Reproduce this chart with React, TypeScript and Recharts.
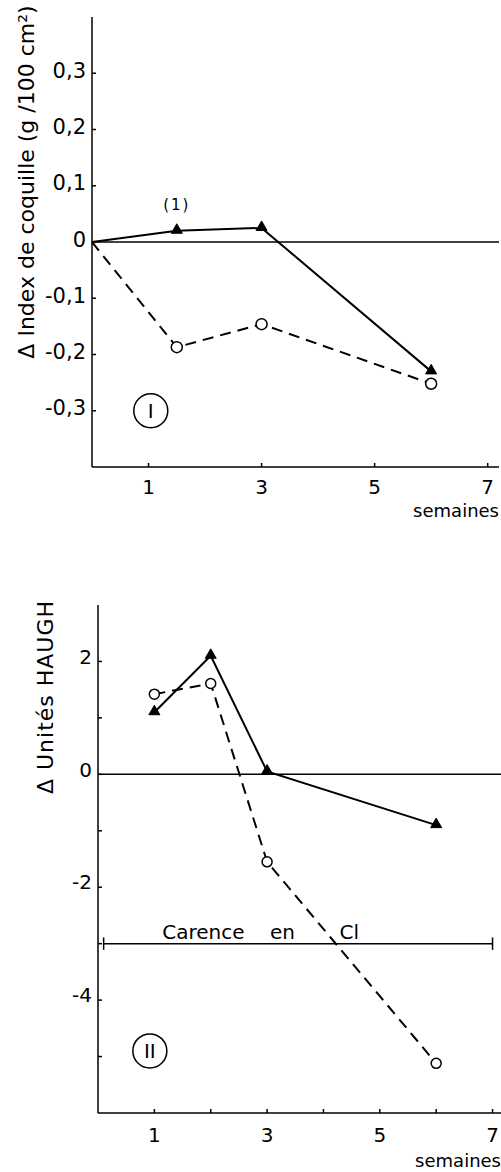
import React from 'react';
import { LineChart, Line, XAxis, YAxis, ReferenceLine, ReferenceDot } from 'recharts';

// ---- Chart I : shell index ----
const weeks1 = [0, 1.5, 3, 6];
const shellTriangle = [0, 0.02, 0.025, -0.23];
const shellCircle = [0, -0.187, -0.146, -0.252];
const xTicks1 = [1, 3, 5, 7];
const yTicks1 = [-0.3, -0.2, -0.1, 0, 0.1, 0.2, 0.3];

// ---- Chart II : Haugh units ----
const weeks2 = [1, 2, 3, 6];
const haughTriangle = [1.1, 2.1, 0.05, -0.9];
const haughCircle = [1.42, 1.61, -1.55, -5.12];
const xTicks2 = [1, 2, 3, 4, 5, 6, 7];
const yTicks2 = [-5, -4, -3, -2, -1, 0, 1, 2];

const data1 = weeks1.map((w, i) => ({ week: w, tri: shellTriangle[i], circ: shellCircle[i] }));
const data2 = weeks2.map((w, i) => ({ week: w, tri: haughTriangle[i], circ: haughCircle[i] }));

const FONT = 'DejaVu Sans, sans-serif';

const makeTriangle = (skipFirst: boolean) => (props: any) => {
  const { cx, cy, index } = props;
  if ((skipFirst && index === 0) || cx == null || cy == null) return <g key={`t${index}`} />;
  return (
    <path
      key={`t${index}`}
      d={`M${cx},${cy - 7} L${cx + 5.5},${cy + 2.5} L${cx - 5.5},${cy + 2.5} Z`}
      fill="#000"
      stroke="#000"
      strokeWidth={1}
    />
  );
};

const makeCircle = (skipFirst: boolean, r: number) => (props: any) => {
  const { cx, cy, index } = props;
  if ((skipFirst && index === 0) || cx == null || cy == null) return <g key={`c${index}`} />;
  return <circle key={`c${index}`} cx={cx} cy={cy} r={r} fill="#fff" stroke="#000" strokeWidth={1.5} />;
};

const makeYTick = (fmt: (v: number) => string, fs: number, lift: number, gap: number) => (props: any) => {
  const { x, y, payload } = props;
  return (
    <g>
      <line x1={x} x2={x + 4} y1={y} y2={y} stroke="#000" strokeWidth={1.5} />
      <text x={x - gap} y={y - lift} dy="0.36em" textAnchor="end" fontSize={fs} fill="#000" fontFamily={FONT}>
        {fmt(payload.value)}
      </text>
    </g>
  );
};

const makeXTick = (fmt: (v: number) => string, fs: number, gap: number) => (props: any) => {
  const { x, y, payload } = props;
  return (
    <g>
      <line x1={x} x2={x} y1={y} y2={y - 4} stroke="#000" strokeWidth={1.5} />
      <text x={x} y={y + gap} textAnchor="middle" fontSize={fs} fill="#000" fontFamily={FONT}>
        {fmt(payload.value)}
      </text>
    </g>
  );
};

const rotatedTitle = (text: string, dx: number, dy: number, fontSize: number, spacing: number) => (props: any) => {
  const vb = props.viewBox || { x: 0, y: 0, width: 0, height: 0 };
  const x = vb.x + dx;
  const y = vb.y + dy;
  return (
    <text
      x={x}
      y={y}
      transform={`rotate(-90, ${x}, ${y})`}
      textAnchor="middle"
      fontSize={fontSize}
      letterSpacing={spacing}
      fill="#000"
      fontFamily={FONT}
    >
      {text}
    </text>
  );
};

const semainesLabel = (dy: number) => (props: any) => {
  const vb = props.viewBox || { x: 0, y: 0, width: 0, height: 0 };
  return (
    <text x={vb.x + vb.width} y={vb.y + dy} textAnchor="end" fontSize={18} fill="#000" fontFamily={FONT}>
      semaines
    </text>
  );
};

const textAt = (text: string, dx: number, dy: number, fontSize: number, anchor: string, extra: any = {}) => (props: any) => {
  const vb = props.viewBox || { x: 0, y: 0, width: 0, height: 0 };
  const cx = vb.x + vb.width / 2;
  const cy = vb.y + vb.height / 2;
  return (
    <text x={cx + dx} y={cy + dy} textAnchor={anchor as any} fontSize={fontSize} fill="#000" fontFamily={FONT} {...extra}>
      {text}
    </text>
  );
};

const fmt1 = (v: number) => (v === 0 ? '0' : v.toFixed(1).replace('.', ','));
const fmtOdd = (v: number) => (Math.abs(v) % 2 === 1 ? String(v) : '');
const fmtAll = (v: number) => String(v);
const fmtEven = (v: number) => (v % 2 === 0 ? String(v) : '');

const axisLine = { stroke: '#000', strokeWidth: 1.5 };

export default function App() {
  return (
    <div
      style={{
        position: 'absolute',
        left: 0,
        top: 0,
        width: 501,
        height: 1172,
        background: '#fff',
        fontFamily: FONT,
        overflow: 'hidden',
      }}
    >
      <div style={{ position: 'absolute', left: 0, top: 0 }}>
        <LineChart width={501} height={530} data={data1} margin={{ top: 17, right: 2, bottom: 23, left: 0 }}>
          <XAxis
            dataKey="week"
            type="number"
            domain={[0, 7.2]}
            ticks={xTicks1}
            interval={0}
            height={40}
            axisLine={axisLine}
            tickLine={false}
            tickSize={0}
            tickMargin={0}
            tick={makeXTick(fmtAll, 20, 27)}
            label={{ content: semainesLabel(50) }}
          />
          <YAxis
            type="number"
            domain={[-0.4, 0.4]}
            ticks={yTicks1}
            interval={0}
            width={92}
            axisLine={axisLine}
            tickLine={false}
            tickSize={0}
            tickMargin={0}
            tick={makeYTick(fmt1, 21, 3, 6)}
            label={{ content: rotatedTitle('Δ Index de coquille (g /100 cm²)', 34, 165, 22, 0) }}
          />
          <ReferenceLine y={0} stroke="#000" strokeWidth={1.5} />
          <ReferenceDot
            x={1.04}
            y={-0.3}
            r={17}
            fill="#fff"
            stroke="#000"
            strokeWidth={1.5}
            label={{ content: textAt('I', 0, 7, 20, 'middle') }}
          />
          <ReferenceDot
            x={1.5}
            y={0.02}
            r={0}
            fill="none"
            stroke="none"
            label={{ content: textAt('(1)', 0, -21, 15, 'middle', { letterSpacing: 2 }) }}
          />
          <Line
            type="linear"
            dataKey="circ"
            stroke="#000"
            strokeWidth={2}
            strokeDasharray="11 7"
            dot={makeCircle(true, 5.5)}
            activeDot={false}
            isAnimationActive={false}
          />
          <Line
            type="linear"
            dataKey="tri"
            stroke="#000"
            strokeWidth={2}
            dot={makeTriangle(true)}
            activeDot={false}
            isAnimationActive={false}
          />
        </LineChart>
      </div>

      <div style={{ position: 'absolute', left: 0, top: 560 }}>
        <LineChart width={501} height={612} data={data2} margin={{ top: 45, right: 0, bottom: 19, left: 0 }}>
          <XAxis
            dataKey="week"
            type="number"
            domain={[0, 7.15]}
            ticks={xTicks2}
            interval={0}
            height={40}
            axisLine={axisLine}
            tickLine={false}
            tickSize={0}
            tickMargin={0}
            tick={makeXTick(fmtOdd, 20, 29)}
            label={{ content: semainesLabel(54) }}
          />
          <YAxis
            type="number"
            domain={[-6, 3]}
            ticks={yTicks2}
            interval={0}
            width={98}
            axisLine={axisLine}
            tickLine={false}
            tickSize={0}
            tickMargin={0}
            tick={makeYTick(fmtEven, 20, 5, 6)}
            label={{ content: rotatedTitle('Δ Unités HAUGH', 53, 92, 22, 1) }}
          />
          <ReferenceLine y={0} stroke="#000" strokeWidth={1.5} />
          <ReferenceLine segment={[{ x: 0.1, y: -3 }, { x: 7, y: -3 }]} stroke="#000" strokeWidth={1.5} />
          <ReferenceLine segment={[{ x: 0.1, y: -3.11 }, { x: 0.1, y: -2.89 }]} stroke="#000" strokeWidth={1.5} />
          <ReferenceLine segment={[{ x: 7, y: -3.11 }, { x: 7, y: -2.89 }]} stroke="#000" strokeWidth={1.5} />
          <ReferenceDot
            x={1.14}
            y={-3}
            r={0}
            fill="none"
            stroke="none"
            label={{
              content: textAt('Carence\u00A0\u00A0\u00A0\u00A0en\u00A0\u00A0\u00A0\u00A0\u00A0\u00A0\u00A0Cl', 0, -5, 20, 'start'),
            }}
          />
          <ReferenceDot
            x={0.92}
            y={-4.9}
            r={17}
            fill="#fff"
            stroke="#000"
            strokeWidth={1.5}
            label={{ content: textAt('II', 0, 7, 20, 'middle') }}
          />
          <Line
            type="linear"
            dataKey="circ"
            stroke="#000"
            strokeWidth={2}
            strokeDasharray="11 7"
            dot={makeCircle(false, 5)}
            activeDot={false}
            isAnimationActive={false}
          />
          <Line
            type="linear"
            dataKey="tri"
            stroke="#000"
            strokeWidth={2}
            dot={makeTriangle(false)}
            activeDot={false}
            isAnimationActive={false}
          />
        </LineChart>
      </div>
    </div>
  );
}
